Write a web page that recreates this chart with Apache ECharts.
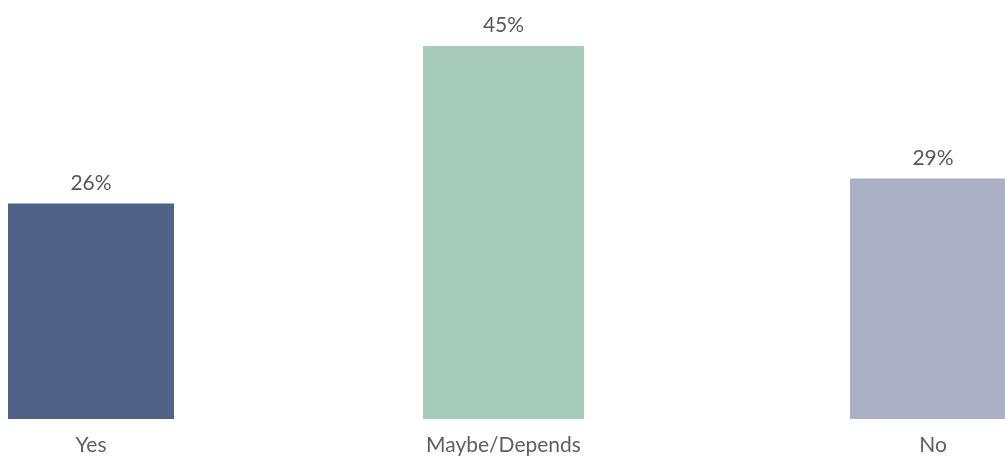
<!DOCTYPE html>
<html>
<head>
<meta charset="utf-8">
<script src="https://cdn.jsdelivr.net/npm/echarts@6/dist/echarts.min.js"></script>
<style>
  html, body { margin: 0; padding: 0; background: #ffffff; overflow: hidden; }
  /* the last column runs past the right edge of the window */
  #chart { width: 1016px; height: 456px; }
</style>
</head>
<body>
<div id="chart"></div>
<script>
// Survey answers, share of respondents (%)
const categories = ['Yes', 'Maybe/Depends', 'No'];
const values = [26, 45, 29];
const colors = ['#506387', '#a6cbbd', '#abb0c6'];

// Horizontal slot for each answer column: [left, width] in px
const slots = [[8, 166], [423, 161], [850, 166]];

const chart = echarts.init(document.getElementById('chart'));
const font = 'Lato, "Open Sans", sans-serif';

const grid = [], xAxis = [], yAxis = [], series = [];
categories.forEach((cat, i) => {
  grid.push({ left: slots[i][0], width: slots[i][1], top: 46, bottom: 37 });
  xAxis.push({
    type: 'category', gridIndex: i, data: [cat],
    axisLine: { show: false }, axisTick: { show: false },
    axisLabel: { color: '#606060', fontSize: 21, fontFamily: font, margin: 16 }
  });
  yAxis.push({
    type: 'value', gridIndex: i, min: 0, max: 45,
    show: false, splitLine: { show: false }
  });
  series.push({
    type: 'bar', xAxisIndex: i, yAxisIndex: i,
    data: [values[i]], barWidth: '100%',
    itemStyle: { color: colors[i] },
    label: {
      show: true, position: 'top', distance: 10,
      formatter: '{c}%', color: '#585858', fontSize: 21, fontFamily: font
    },
    animation: false
  });
});

chart.setOption({ animation: false, grid, xAxis, yAxis, series });
</script>
</body>
</html>
